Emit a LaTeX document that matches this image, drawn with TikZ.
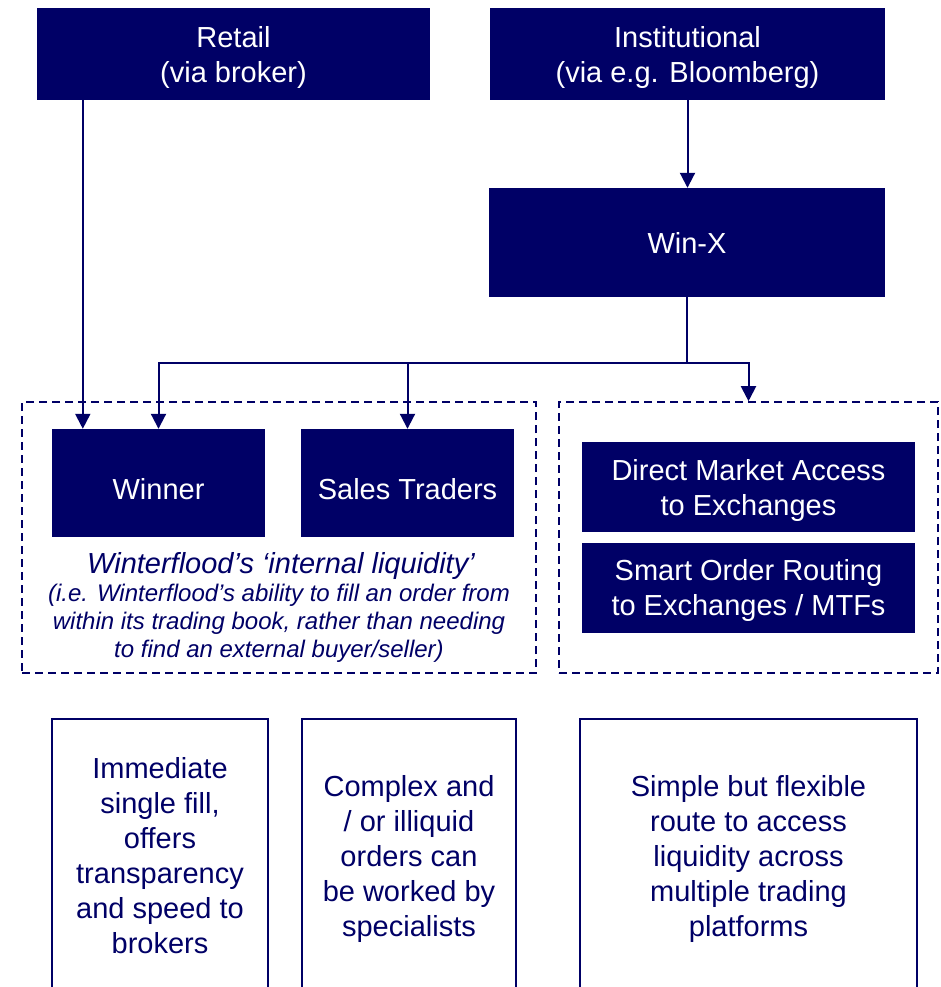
\documentclass[tikz,border=0pt]{standalone}
\usepackage{fontspec}
\setmainfont{Liberation Sans}
\usetikzlibrary{positioning,arrows.meta}
\definecolor{wfnavy}{RGB}{0,0,102}
\newcommand{\topgap}[1]{\rule{0pt}{#1}}

\begin{document}
\begin{tikzpicture}[x=1pt,y=-1pt,on grid,
    channel/.style={fill=wfnavy,text=white,align=center,inner sep=0pt,
                    font=\fontsize{29}{35}\selectfont},
    route/.style={fill=wfnavy,text=white,align=center,inner sep=0pt,
                  minimum width=333pt,minimum height=90pt,
                  font=\fontsize{29}{35}\selectfont},
    pool/.style={draw=wfnavy,line width=1.6pt,dash pattern=on 8pt off 5pt,
                 minimum height=271pt},
    benefit/.style={draw=wfnavy,line width=1.6pt,text=wfnavy,align=center,
                    minimum height=274pt,font=\fontsize{29}{35}\selectfont},
    link/.style={draw=wfnavy,line width=2pt,-{Triangle[length=15pt,width=15pt]}}]

    \useasboundingbox (0,0) rectangle (940,987);
    \clip (0,0) rectangle (940,987);

    \node[channel,minimum width=393pt,minimum height=92pt] (retail) at (233.5,54) {\topgap{28pt}Retail\\(via broker)};
    \node[channel,minimum width=395pt,minimum height=92pt] (inst) at (687.5,54) {\topgap{28pt}Institutional\\(via e.g. Bloomberg)};
    \node[channel,minimum width=396pt,minimum height=109pt] (winx) at (687,242.5) {Win-X};

    \node[pool,minimum width=514pt] (internal) at (279,537.5) {};
    \node[pool,minimum width=379pt] (external) at (748.5,537.5) {};

    \node[channel,minimum width=213pt,minimum height=108pt] (winner) at (158.5,483) {\topgap{32.8pt}Winner};
    \node[channel,minimum width=213pt,minimum height=108pt] (sales) [right=249pt of winner] {\topgap{32.8pt}Sales Traders};
    \node[route] (dma) at (748.5,487) {\topgap{28pt}Direct Market Access\\to Exchanges};
    \node[route] (sor) [below=100.5pt of dma] {\topgap{28pt}Smart Order Routing\\to Exchanges / MTFs};

    \node[text=wfnavy,font=\itshape\fontsize{29}{35}\selectfont] (liqhead) at (281,562) {\topgap{29pt}Winterflood’s ‘internal liquidity’};
    \node[text=wfnavy,align=center,font=\itshape\fontsize{24}{28}\selectfont] (liqnote) at (279,621)
        {\topgap{21.6pt}(i.e. Winterflood’s ability to fill an order from\\within its trading book, rather than needing\\to find an external buyer/seller)};

    \node[benefit,minimum width=216pt] (fill) at (160,856) {Immediate\\single fill,\\offers\\transparency\\and speed to\\brokers};
    \node[benefit,minimum width=214pt] (worked) [right=249pt of fill] {\topgap{27pt}Complex and\\/ or illiquid\\orders can\\be worked by\\specialists};
    \node[benefit,minimum width=337pt] (flex) at (748.5,856) {\topgap{27pt}Simple but flexible\\route to access\\liquidity across\\multiple trading\\platforms};

    \coordinate (retaildrop) at ([xshift=31pt]winner.north west);
    \coordinate (split) at ([yshift=-66pt]winx.south);

    \draw[link] (inst.south) -- (inst.south |- winx.north);
    \draw[link] (retail.south -| retaildrop) -- (retaildrop);
    \draw[link] (winx.south) -- (split) -| (winner.north);
    \draw[link] (split) -| (sales.north);
    \draw[link] (split) -| (external.north);
\end{tikzpicture}
\end{document}
